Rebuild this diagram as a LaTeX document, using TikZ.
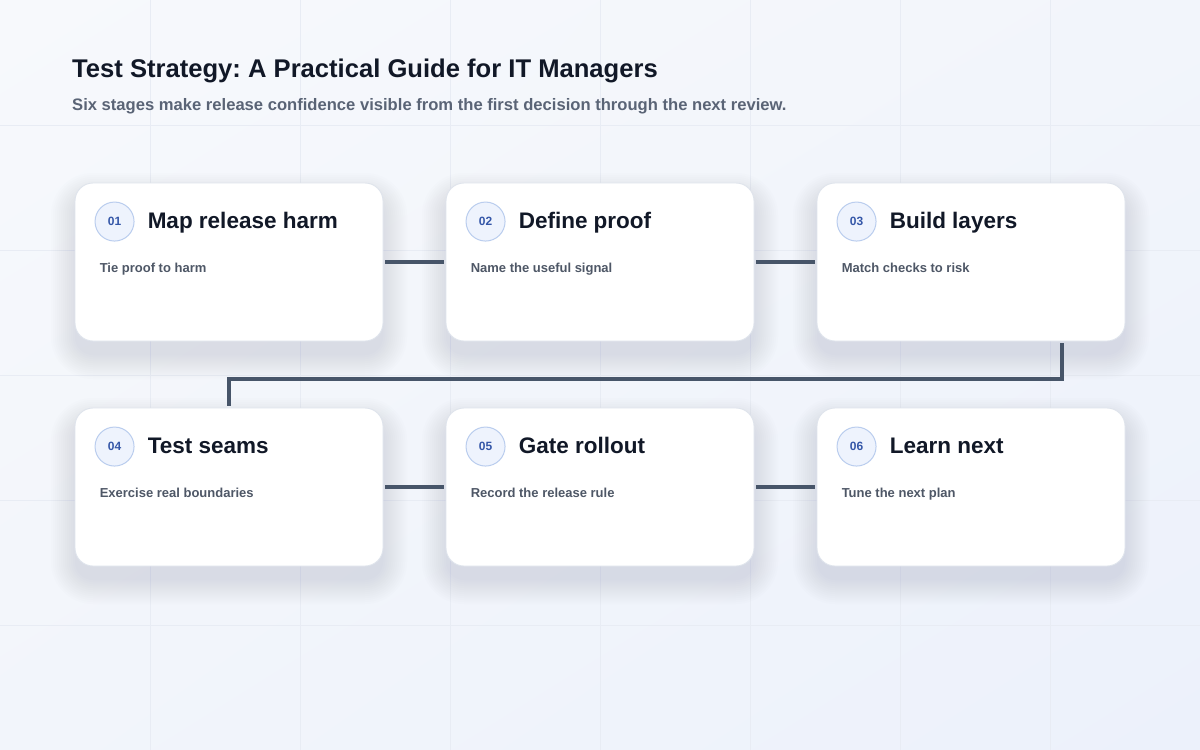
\documentclass[tikz,border=0pt]{standalone}
\usepackage{fontspec}
\setmainfont{Liberation Sans}
\frenchspacing
\usetikzlibrary{shadings}

\definecolor{ink}{HTML}{111827}
\definecolor{lede}{HTML}{5A6476}
\definecolor{note}{HTML}{4E5766}
\definecolor{slate}{HTML}{475569}
\definecolor{cardline}{HTML}{DFE4EC}
\definecolor{badgefill}{HTML}{EEF3FD}
\definecolor{badgeline}{HTML}{BACDEE}
\definecolor{badgetext}{HTML}{3557A8}
\definecolor{bgtop}{HTML}{F7F9FC}
\definecolor{bgside}{HTML}{F2F5FB}
\definecolor{bgbottom}{HTML}{ECF1FB}
\definecolor{gridline}{HTML}{E8ECF4}
\definecolor{shadowblue}{HTML}{7D8CAB}

\begin{document}
\begin{tikzpicture}[
  x=1pt, y=-1pt,
  card/.style={draw=cardline, line width=0.9pt, fill=white, rounded corners=18pt,
    minimum width=308pt, minimum height=158pt, inner sep=0pt},
  haze/.style={fill=shadowblue, opacity=0.015},
  badge/.style={circle, draw=badgeline, fill=badgefill, line width=1pt,
    minimum size=39pt, inner sep=0pt, text=badgetext,
    font=\bfseries\fontsize{12}{12}\selectfont},
  cardtitle/.style={anchor=base west, inner sep=0pt, text=ink,
    font=\bfseries\fontsize{22.5}{26}\selectfont},
  cardnote/.style={anchor=base west, inner sep=0pt, text=note,
    font=\bfseries\fontsize{13}{15}\selectfont},
  link/.style={draw=slate, line width=4pt, shorten <=2pt, shorten >=2pt}
  ]
\useasboundingbox (0,0) rectangle (1200,750);
\shade[upper left=bgtop, upper right=bgside, lower left=bgside, lower right=bgbottom]
  (0,0) rectangle (1200,750);
\foreach \gx in {150,300,...,1050}
  \draw[gridline, line width=0.6pt] (\gx,0) -- (\gx,750);
\foreach \gy in {125,250,...,625}
  \draw[gridline, line width=0.6pt] (0,\gy) -- (1200,\gy);

\node[anchor=base west, inner sep=0pt, text=ink, font=\bfseries\fontsize{25.6}{30}\selectfont]
  (heading) at (72,77) {Test Strategy: A Practical Guide for IT Managers};
\node[anchor=base west, inner sep=0pt, text=lede, font=\bfseries\fontsize{16.6}{20}\selectfont]
  (lede) at (72,110) {Six stages make release confidence visible from the first decision through the next review.};

\foreach \n/\px/\py/\head/\txt in {
    1/229/262/Map release harm/Tie proof to harm,
    2/600/262/Define proof/Name the useful signal,
    3/971/262/Build layers/Match checks to risk,
    4/229/487/Test seams/Exercise real boundaries,
    5/600/487/Gate rollout/Record the release rule,
    6/971/487/Learn next/Tune the next plan}{
  % soft shadow under the card
  \foreach \s in {0,2,...,24}
    \fill[haze, rounded corners={18pt+\s pt}]
      (\px-154-\s, \py-79-\s+14) rectangle (\px+154+\s, \py+79+\s+14);
  \node[card] (c\n) at (\px,\py) {};
  \node[badge] (b\n) at ([xshift=40pt, yshift=-39pt]c\n.north west) {0\n};
  \node[cardtitle] (t\n) at ([xshift=73pt, yshift=-46pt]c\n.north west) {\head};
  \node[cardnote] (n\n) at ([xshift=25pt, yshift=-90pt]c\n.north west) {\txt};
}

\draw[link] (c1.east) -- (c2.west);
\draw[link] (c2.east) -- (c3.west);
\draw[link] ([xshift=91pt]c3.south) -- ++(0,38) -| (c4.north);
\draw[link] (c4.east) -- (c5.west);
\draw[link] (c5.east) -- (c6.west);
\end{tikzpicture}
\end{document}
